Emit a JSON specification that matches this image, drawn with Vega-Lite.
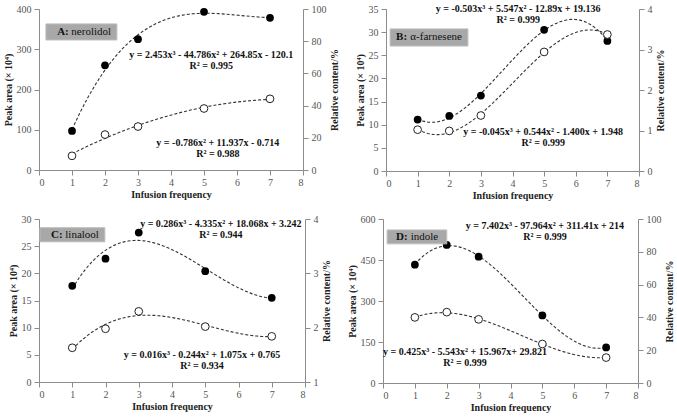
{
  "$schema": "https://vega.github.io/schema/vega-lite/v6.json",
  "background": "white",
  "padding": {"left": 3, "top": 4, "right": 2, "bottom": 2},
  "config": {
    "view": {"stroke": null},
    "font": "Liberation Serif",
    "axis": {"grid": false, "labelOverlap": false, "tickCount": 20, "domainColor": "#8c8c8c", "tickColor": "#8c8c8c", "tickSize": 5, "labelPadding": 3, "titlePadding": 3, "labelFont": "Liberation Serif", "labelFontSize": 10, "labelColor": "#555555", "titleFont": "Liberation Serif", "titleFontSize": 10, "titleFontWeight": "bold", "titleColor": "#222222"},
    "axisX": {"labelPadding": 2, "titlePadding": 2},
    "text": {"font": "Liberation Serif"}
  },
  "datasets": {
    "A": [{"x": 1, "peak": 97, "rel": 8.8}, {"x": 2, "peak": 260, "rel": 22}, {"x": 3, "peak": 325, "rel": 27}, {"x": 5, "peak": 393, "rel": 38.2}, {"x": 7, "peak": 378, "rel": 44.2}],
    "B": [{"x": 1, "peak": 11.1, "rel": 1.02}, {"x": 2, "peak": 11.9, "rel": 0.99}, {"x": 3, "peak": 16.3, "rel": 1.37}, {"x": 5, "peak": 30.5, "rel": 2.94}, {"x": 7, "peak": 28.1, "rel": 3.37}],
    "C": [{"x": 1, "peak": 17.7, "rel": 1.63}, {"x": 2, "peak": 22.7, "rel": 1.98}, {"x": 3, "peak": 27.5, "rel": 2.3}, {"x": 5, "peak": 20.4, "rel": 2.02}, {"x": 7, "peak": 15.5, "rel": 1.84}],
    "D": [{"x": 1, "peak": 433, "rel": 40}, {"x": 2, "peak": 505, "rel": 43.2}, {"x": 3, "peak": 462, "rel": 38.8}, {"x": 5, "peak": 247, "rel": 23.8}, {"x": 7, "peak": 130, "rel": 15.5}]
  },
  "vconcat": [
    {"hconcat": [
      {
        "width": 264, "height": 161,
        "data": {"name": "A"},
        "layer": [
          {"layer": [
            {"transform": [{"regression": "peak", "on": "x", "method": "poly", "order": 3}],
             "mark": {"type": "line", "strokeDash": [3, 2], "color": "#333", "strokeWidth": 1.1},
             "encoding": {"x": {"field": "x", "type": "quantitative", "scale": {"domain": [0, 8]}, "axis": {"values": [0,1,2,3,4,5,6,7,8], "tickCount": 20, "format": "d", "title": "Infusion frequency"}},
                          "y": {"field": "peak", "type": "quantitative", "scale": {"domain": [0, 400]}, "axis": {"values": [0,100,200,300,400], "tickCount": 20, "format": "d", "title": "Peak area (× 10⁴)"}}}},
            {"mark": {"type": "point", "filled": true, "color": "black", "size": 60, "opacity": 1},
             "encoding": {"x": {"field": "x", "type": "quantitative", "title": "Infusion frequency"}, "y": {"field": "peak", "type": "quantitative", "title": "Peak area (× 10⁴)"}}},
            {"data": {"values": [{"t": "y = 2.453x³ - 44.786x² + 264.85x - 120.1\nR² = 0.995"}]},
             "mark": {"type": "text", "lineBreak": "\n", "lineHeight": 11, "fontSize": 10, "fontWeight": "bold", "align": "center", "baseline": "middle", "color": "#111"},
             "encoding": {"x": {"datum": 5.22, "type": "quantitative"}, "y": {"datum": 286, "type": "quantitative"}, "text": {"field": "t"}}},
            {"data": {"values": [{"t": "A:"}]},
             "mark": {"type": "rect", "fill": "#a8a8a8", "stroke": "#bdbdbd", "strokeWidth": 1},
             "encoding": {"x": {"datum": 0.21, "type": "quantitative"}, "x2": {"datum": 2.36}, "y": {"datum": 363, "type": "quantitative"}, "y2": {"datum": 323}}},
            {"data": {"values": [{"t": "A:"}]},
             "mark": {"type": "text", "fontSize": 11, "fontWeight": "bold", "align": "left", "baseline": "middle", "color": "#111"},
             "encoding": {"x": {"datum": 0.55, "type": "quantitative"}, "y": {"datum": 343, "type": "quantitative"}, "text": {"field": "t"}}},
            {"data": {"values": [{"t": "nerolidol"}]},
             "mark": {"type": "text", "fontSize": 11, "align": "left", "baseline": "middle", "color": "#111"},
             "encoding": {"x": {"datum": 0.98, "type": "quantitative"}, "y": {"datum": 343, "type": "quantitative"}, "text": {"field": "t"}}}
          ]},
          {"layer": [
            {"transform": [{"regression": "rel", "on": "x", "method": "poly", "order": 2}],
             "mark": {"type": "line", "strokeDash": [3, 2], "color": "#333", "strokeWidth": 1.1},
             "encoding": {"x": {"field": "x", "type": "quantitative", "title": "Infusion frequency"},
                          "y": {"field": "rel", "type": "quantitative", "scale": {"domain": [0, 100]}, "axis": {"orient": "right", "values": [0,20,40,60,80,100], "tickCount": 20, "format": "d", "title": "Relative content/%", "titleAngle": 270, "titleBaseline": "top"}}}},
            {"mark": {"type": "point", "filled": true, "fill": "white", "stroke": "#222", "strokeWidth": 1, "size": 60, "opacity": 1},
             "encoding": {"x": {"field": "x", "type": "quantitative", "title": "Infusion frequency"}, "y": {"field": "rel", "type": "quantitative", "title": "Relative content/%"}}},
            {"data": {"values": [{"t": "y = -0.786x² + 11.937x - 0.714\nR² = 0.988"}]},
             "mark": {"type": "text", "lineBreak": "\n", "lineHeight": 11, "fontSize": 10, "fontWeight": "bold", "align": "center", "baseline": "middle", "color": "#111"},
             "encoding": {"x": {"datum": 5.42, "type": "quantitative"}, "y": {"datum": 16.8, "type": "quantitative"}, "text": {"field": "t"}}}
          ]}
        ],
        "resolve": {"scale": {"y": "independent"}}
      },
      {
        "width": 253, "height": 162,
        "data": {"name": "B"},
        "layer": [
          {"layer": [
            {"transform": [{"regression": "peak", "on": "x", "method": "poly", "order": 3}],
             "mark": {"type": "line", "strokeDash": [3, 2], "color": "#333", "strokeWidth": 1.1},
             "encoding": {"x": {"field": "x", "type": "quantitative", "scale": {"domain": [0, 8]}, "axis": {"values": [0,1,2,3,4,5,6,7,8], "tickCount": 20, "format": "d", "title": "Infusion frequency"}},
                          "y": {"field": "peak", "type": "quantitative", "scale": {"domain": [0, 35]}, "axis": {"values": [0,5,10,15,20,25,30,35], "tickCount": 20, "format": "d", "title": "Peak area (× 10⁴)"}}}},
            {"mark": {"type": "point", "filled": true, "color": "black", "size": 60, "opacity": 1},
             "encoding": {"x": {"field": "x", "type": "quantitative", "title": "Infusion frequency"}, "y": {"field": "peak", "type": "quantitative", "title": "Peak area (× 10⁴)"}}},
            {"data": {"values": [{"t": "y = -0.503x³ + 5.547x² - 12.89x + 19.136\nR² = 0.999"}]},
             "mark": {"type": "text", "lineBreak": "\n", "lineHeight": 11, "fontSize": 10, "fontWeight": "bold", "align": "center", "baseline": "middle", "color": "#111"},
             "encoding": {"x": {"datum": 4.18, "type": "quantitative"}, "y": {"datum": 35, "type": "quantitative"}, "text": {"field": "t"}}},
            {"data": {"values": [{"t": "B:"}]},
             "mark": {"type": "rect", "fill": "#a8a8a8", "stroke": "#bdbdbd", "strokeWidth": 1},
             "encoding": {"x": {"datum": 0.13, "type": "quantitative"}, "x2": {"datum": 2.59}, "y": {"datum": 30.7, "type": "quantitative"}, "y2": {"datum": 27.0}}},
            {"data": {"values": [{"t": "B:"}]},
             "mark": {"type": "text", "fontSize": 11, "fontWeight": "bold", "align": "left", "baseline": "middle", "color": "#111"},
             "encoding": {"x": {"datum": 0.32, "type": "quantitative"}, "y": {"datum": 28.85, "type": "quantitative"}, "text": {"field": "t"}}},
            {"data": {"values": [{"t": "α-farnesene"}]},
             "mark": {"type": "text", "fontSize": 11, "align": "left", "baseline": "middle", "color": "#111"},
             "encoding": {"x": {"datum": 0.77, "type": "quantitative"}, "y": {"datum": 28.85, "type": "quantitative"}, "text": {"field": "t"}}}
          ]},
          {"layer": [
            {"transform": [{"regression": "rel", "on": "x", "method": "poly", "order": 3}],
             "mark": {"type": "line", "strokeDash": [3, 2], "color": "#333", "strokeWidth": 1.1},
             "encoding": {"x": {"field": "x", "type": "quantitative", "title": "Infusion frequency"},
                          "y": {"field": "rel", "type": "quantitative", "scale": {"domain": [0, 4]}, "axis": {"orient": "right", "values": [0,1,2,3,4], "tickCount": 20, "format": "d", "title": "Relative content/%", "titleAngle": 270, "titleBaseline": "top"}}}},
            {"mark": {"type": "point", "filled": true, "fill": "white", "stroke": "#222", "strokeWidth": 1, "size": 60, "opacity": 1},
             "encoding": {"x": {"field": "x", "type": "quantitative", "title": "Infusion frequency"}, "y": {"field": "rel", "type": "quantitative", "title": "Relative content/%"}}},
            {"data": {"values": [{"t": "y = -0.045x³ + 0.544x² - 1.400x + 1.948\nR² = 0.999"}]},
             "mark": {"type": "text", "lineBreak": "\n", "lineHeight": 11, "fontSize": 10, "fontWeight": "bold", "align": "center", "baseline": "middle", "color": "#111"},
             "encoding": {"x": {"datum": 4.97, "type": "quantitative"}, "y": {"datum": 0.96, "type": "quantitative"}, "text": {"field": "t"}}}
          ]}
        ],
        "resolve": {"scale": {"y": "independent"}}
      }
    ], "spacing": 16},
    {"hconcat": [
      {
        "width": 266, "height": 163,
        "data": {"name": "C"},
        "layer": [
          {"layer": [
            {"transform": [{"regression": "peak", "on": "x", "method": "poly", "order": 3}],
             "mark": {"type": "line", "strokeDash": [3, 2], "color": "#333", "strokeWidth": 1.1},
             "encoding": {"x": {"field": "x", "type": "quantitative", "scale": {"domain": [0, 8]}, "axis": {"values": [0,1,2,3,4,5,6,7,8], "tickCount": 20, "format": "d", "title": "Infusion frequency"}},
                          "y": {"field": "peak", "type": "quantitative", "scale": {"domain": [0, 30]}, "axis": {"values": [0,5,10,15,20,25,30], "tickCount": 20, "format": "d", "title": "Peak area (× 10⁴)"}}}},
            {"mark": {"type": "point", "filled": true, "color": "black", "size": 60, "opacity": 1},
             "encoding": {"x": {"field": "x", "type": "quantitative", "title": "Infusion frequency"}, "y": {"field": "peak", "type": "quantitative", "title": "Peak area (× 10⁴)"}}},
            {"data": {"values": [{"t": "y = 0.286x³ - 4.335x² + 18.068x + 3.242\nR² = 0.944"}]},
             "mark": {"type": "text", "lineBreak": "\n", "lineHeight": 11, "fontSize": 10, "fontWeight": "bold", "align": "center", "baseline": "middle", "color": "#111"},
             "encoding": {"x": {"datum": 5.47, "type": "quantitative"}, "y": {"datum": 29.1, "type": "quantitative"}, "text": {"field": "t"}}},
            {"data": {"values": [{"t": "C:"}]},
             "mark": {"type": "rect", "fill": "#a8a8a8", "stroke": "#bdbdbd", "strokeWidth": 1},
             "encoding": {"x": {"datum": 0.03, "type": "quantitative"}, "x2": {"datum": 1.98}, "y": {"datum": 28.4, "type": "quantitative"}, "y2": {"datum": 25.8}}},
            {"data": {"values": [{"t": "C:"}]},
             "mark": {"type": "text", "fontSize": 11, "fontWeight": "bold", "align": "left", "baseline": "middle", "color": "#111"},
             "encoding": {"x": {"datum": 0.36, "type": "quantitative"}, "y": {"datum": 27.1, "type": "quantitative"}, "text": {"field": "t"}}},
            {"data": {"values": [{"t": "linalool"}]},
             "mark": {"type": "text", "fontSize": 11, "align": "left", "baseline": "middle", "color": "#111"},
             "encoding": {"x": {"datum": 0.79, "type": "quantitative"}, "y": {"datum": 27.1, "type": "quantitative"}, "text": {"field": "t"}}}
          ]},
          {"layer": [
            {"transform": [{"regression": "rel", "on": "x", "method": "poly", "order": 3}],
             "mark": {"type": "line", "strokeDash": [3, 2], "color": "#333", "strokeWidth": 1.1},
             "encoding": {"x": {"field": "x", "type": "quantitative", "title": "Infusion frequency"},
                          "y": {"field": "rel", "type": "quantitative", "scale": {"domain": [1, 4], "zero": false}, "axis": {"orient": "right", "values": [1,2,3,4], "tickCount": 20, "format": "d", "title": "Relative content/%", "titleAngle": 270, "titleBaseline": "top"}}}},
            {"mark": {"type": "point", "filled": true, "fill": "white", "stroke": "#222", "strokeWidth": 1, "size": 60, "opacity": 1},
             "encoding": {"x": {"field": "x", "type": "quantitative", "title": "Infusion frequency"}, "y": {"field": "rel", "type": "quantitative", "title": "Relative content/%"}}},
            {"data": {"values": [{"t": "y = 0.016x³ - 0.244x² + 1.075x + 0.765\nR² = 0.934"}]},
             "mark": {"type": "text", "lineBreak": "\n", "lineHeight": 11, "fontSize": 10, "fontWeight": "bold", "align": "center", "baseline": "middle", "color": "#111"},
             "encoding": {"x": {"datum": 4.9, "type": "quantitative"}, "y": {"datum": 1.5, "type": "quantitative"}, "text": {"field": "t"}}}
          ]}
        ],
        "resolve": {"scale": {"y": "independent"}}
      },
      {
        "width": 255, "height": 164,
        "data": {"name": "D"},
        "layer": [
          {"layer": [
            {"transform": [{"regression": "peak", "on": "x", "method": "poly", "order": 3}],
             "mark": {"type": "line", "strokeDash": [3, 2], "color": "#333", "strokeWidth": 1.1},
             "encoding": {"x": {"field": "x", "type": "quantitative", "scale": {"domain": [0, 8]}, "axis": {"values": [0,1,2,3,4,5,6,7,8], "tickCount": 20, "format": "d", "title": "Infusion frequency"}},
                          "y": {"field": "peak", "type": "quantitative", "scale": {"domain": [0, 600]}, "axis": {"values": [0,150,300,450,600], "tickCount": 20, "format": "d", "title": "Peak area (× 10⁴)"}}}},
            {"mark": {"type": "point", "filled": true, "color": "black", "size": 60, "opacity": 1},
             "encoding": {"x": {"field": "x", "type": "quantitative", "title": "Infusion frequency"}, "y": {"field": "peak", "type": "quantitative", "title": "Peak area (× 10⁴)"}}},
            {"data": {"values": [{"t": "y = 7.402x³ - 97.964x² + 311.41x + 214\nR² = 0.999"}]},
             "mark": {"type": "text", "lineBreak": "\n", "lineHeight": 11, "fontSize": 10, "fontWeight": "bold", "align": "center", "baseline": "middle", "color": "#111"},
             "encoding": {"x": {"datum": 5.08, "type": "quantitative"}, "y": {"datum": 575, "type": "quantitative"}, "text": {"field": "t"}}},
            {"data": {"values": [{"t": "D:"}]},
             "mark": {"type": "rect", "fill": "#a8a8a8", "stroke": "#bdbdbd", "strokeWidth": 1},
             "encoding": {"x": {"datum": 0.13, "type": "quantitative"}, "x2": {"datum": 2.0}, "y": {"datum": 560, "type": "quantitative"}, "y2": {"datum": 509}}},
            {"data": {"values": [{"t": "D:"}]},
             "mark": {"type": "text", "fontSize": 11, "fontWeight": "bold", "align": "left", "baseline": "middle", "color": "#111"},
             "encoding": {"x": {"datum": 0.41, "type": "quantitative"}, "y": {"datum": 535, "type": "quantitative"}, "text": {"field": "t"}}},
            {"data": {"values": [{"t": "indole"}]},
             "mark": {"type": "text", "fontSize": 11, "align": "left", "baseline": "middle", "color": "#111"},
             "encoding": {"x": {"datum": 0.87, "type": "quantitative"}, "y": {"datum": 535, "type": "quantitative"}, "text": {"field": "t"}}}
          ]},
          {"layer": [
            {"transform": [{"regression": "rel", "on": "x", "method": "poly", "order": 3}],
             "mark": {"type": "line", "strokeDash": [3, 2], "color": "#333", "strokeWidth": 1.1},
             "encoding": {"x": {"field": "x", "type": "quantitative", "title": "Infusion frequency"},
                          "y": {"field": "rel", "type": "quantitative", "scale": {"domain": [0, 100]}, "axis": {"orient": "right", "values": [0,20,40,60,80,100], "tickCount": 20, "format": "d", "title": "Relative content/%", "titleAngle": 270, "titleBaseline": "top"}}}},
            {"mark": {"type": "point", "filled": true, "fill": "white", "stroke": "#222", "strokeWidth": 1, "size": 60, "opacity": 1},
             "encoding": {"x": {"field": "x", "type": "quantitative", "title": "Infusion frequency"}, "y": {"field": "rel", "type": "quantitative", "title": "Relative content/%"}}},
            {"data": {"values": [{"t": "y = 0.425x³ - 5.543x² + 15.967x+ 29.821\nR² = 0.999"}]},
             "mark": {"type": "text", "lineBreak": "\n", "lineHeight": 11, "fontSize": 10, "fontWeight": "bold", "align": "center", "baseline": "middle", "color": "#111"},
             "encoding": {"x": {"datum": 2.57, "type": "quantitative"}, "y": {"datum": 18.9, "type": "quantitative"}, "text": {"field": "t"}}}
          ]}
        ],
        "resolve": {"scale": {"y": "independent"}}
      }
    ], "spacing": 16}
  ],
  "spacing": 14
}
